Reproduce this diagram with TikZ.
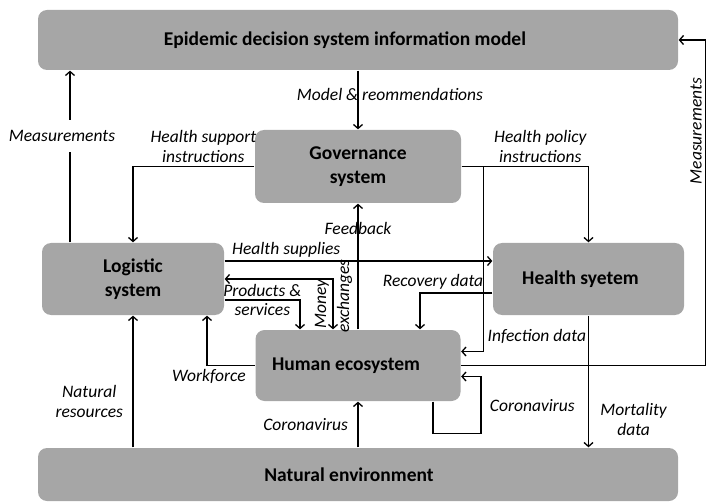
\documentclass[tikz,border=0pt]{standalone}
\usepackage{fontspec}
\setmainfont{Carlito}
\usetikzlibrary{positioning,arrows.meta}
\definecolor{boxgray}{RGB}{166,166,166}
\tikzstyle{block} = [fill=boxgray, rounded corners=9pt, align=center, font=\fontsize{19.5}{24}\selectfont\bfseries]
\tikzstyle{lbl} = [font=\fontsize{17.5}{19.5}\selectfont\itshape, align=center]

\begin{document}
\begin{tikzpicture}[x=1pt, y=1pt, line width=1.3pt, >={Straight Barb[length=4pt,width=9pt]}, node distance=100pt]
        \useasboundingbox (0,0) rectangle (706,-502);

        \node [block, minimum width=640pt, minimum height=60pt] (model) at (358,-40) {Epidemic decision system information model\hspace*{26pt}};
        \node [block, below of=model, node distance=126.5pt, minimum width=206pt, minimum height=73pt] (gov) {Governance\\system};
        \node [coordinate, below of=gov, node distance=112.5pt] (mid) {};
        \node [block, left of=mid, node distance=225pt, minimum width=182pt, minimum height=72pt] (logi) {Logistic\\system};
        \node [block, right of=mid, node distance=230.5pt, minimum width=191pt, minimum height=72pt] (health) {Health syetem\hspace*{16pt}};
        \node [block, below of=gov, node distance=199pt, minimum width=205pt, minimum height=71pt] (human) {Human ecosystem\hspace*{24pt}};
        \node [block, below of=human, node distance=109pt, minimum width=640pt, minimum height=53pt] (nature) {Natural environment\hspace*{18pt}};

        \coordinate (mleft) at ([xshift=-63pt]logi.north);
        \coordinate (hsup) at ([yshift=18pt]logi.east);

        \draw [->] (model) -- node [lbl, pos=.4, xshift=32pt] {Model \& reommendations} (gov);
        \draw [->] (mleft) -- node [lbl, pos=.62, fill=white, inner ysep=10pt, xshift=-8pt] {Measurements} (mleft |- model.south);
        \draw [->] (gov.west) -| node [lbl, above, pos=.21] {Health support\\instructions} (logi.north);
        \draw [->] (gov.east) -| node [lbl, above, pos=.31] {Health policy\\instructions} (health.north);
        \draw [->] (gov.east) -- ++(22pt,0) |- node [lbl, right, pos=.46] {Infection data} ([yshift=14pt]human.east);
        \draw [->] (hsup) -- node [lbl, above, pos=.23] {Health supplies} (hsup -| health.west);
        \draw [->] (human) -- node [lbl, pos=.8] {Feedback} (gov);
        \draw [<->] (logi.east) -| node [lbl, rotate=90, above, pos=.75] {Money} node [lbl, rotate=90, below, pos=.67] {exchanges} ([xshift=-25pt]human.north);
        \draw [->] ([yshift=-21pt]logi.east) -| node [lbl, pos=.25] {Products \&\\services} ([xshift=-58pt]human.north);
        \draw [->] (human.west) -| node [lbl, below, pos=.48] {Workforce} ([xshift=74pt]logi.south);
        \draw [->] (logi.south |- nature.north) -- node [lbl, left, pos=.35, xshift=-6pt] {Natural\\resources} (logi.south);
        \draw [->] (nature) -- node [lbl, left, pos=.5, xshift=-6pt] {Coronavirus} (human);
        \draw [->] ([xshift=75pt]human.south) |- ++(48pt,-32pt) |- node [lbl, right, pos=.25, xshift=5pt] {Coronavirus} ([yshift=-11pt]human.east);
        \draw [->] ([yshift=-14pt]health.west) -| node [lbl, above, pos=.41] {Recovery data} ([xshift=62pt]human.north);
        \draw [->] (health.south) -- node [lbl, right, pos=.79, xshift=8pt] {Mortality\\data} (health.south |- nature.north);
        \draw [->] (human.east) -- ++(244.5pt,0) |- node [lbl, rotate=90, above, pos=.36] {Measurements} (model.east);
\end{tikzpicture}
\end{document}
